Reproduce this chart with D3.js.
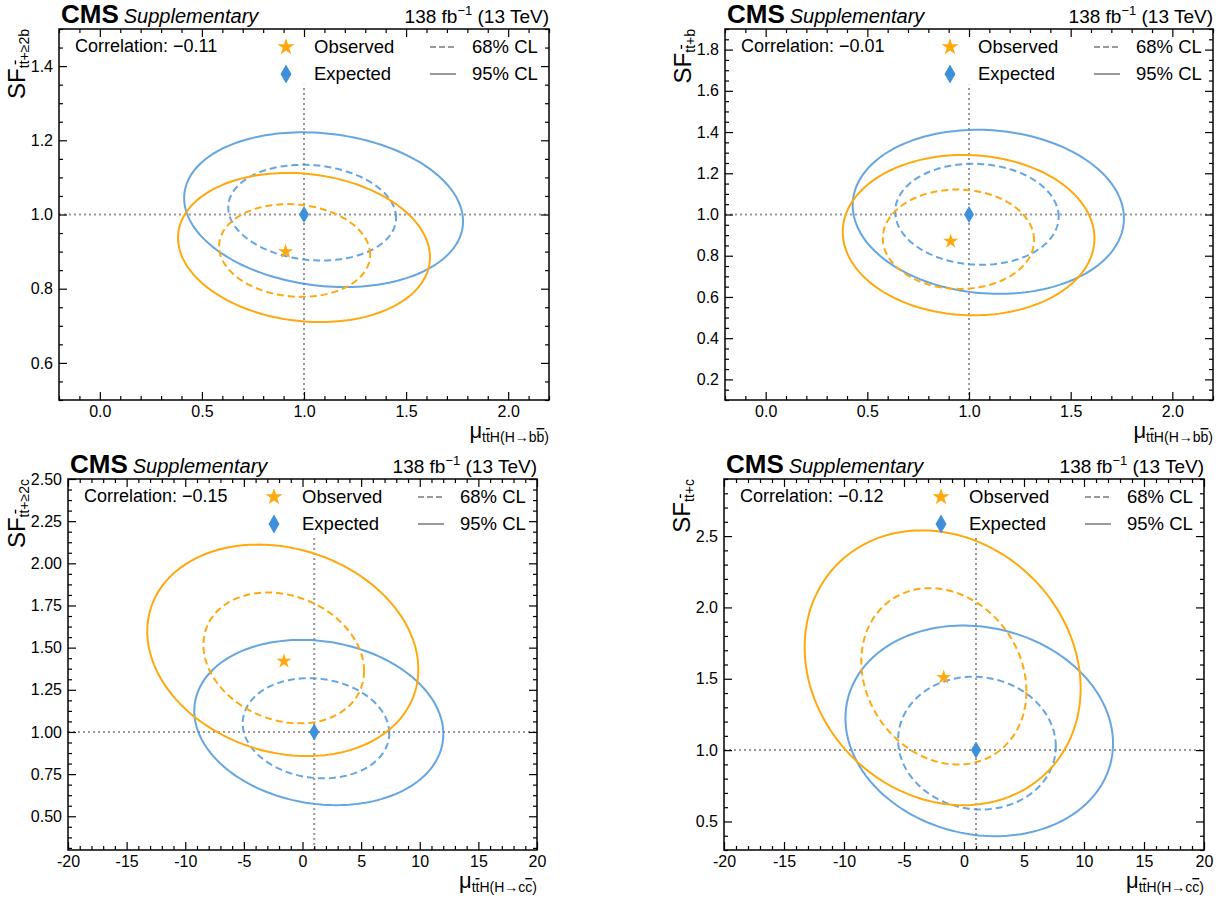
<!DOCTYPE html>
<html><head><meta charset="utf-8">
<script src="https://cdn.jsdelivr.net/npm/d3@7"></script>
<style>body{margin:0;background:#fff} text{font-family:"Liberation Sans",Arial,Helvetica,sans-serif;fill:#000}</style>
</head><body><svg id="c" width="1226" height="900"></svg>
<script>
// ---------------- data ----------------
const xDomains = [[-0.2, 2.2], [-0.2, 2.2], [-20, 20], [-20, 20]];
const yDomains = [[0.5, 1.5], [0.1, 1.9], [0.3, 2.5], [0.3, 2.9]];
const xMajorTicks = [[0, 0.5, 1, 1.5, 2], [0, 0.5, 1, 1.5, 2],
  [-20, -15, -10, -5, 0, 5, 10, 15, 20], [-20, -15, -10, -5, 0, 5, 10, 15, 20]];
const xTickLabels = [["0.0", "0.5", "1.0", "1.5", "2.0"], ["0.0", "0.5", "1.0", "1.5", "2.0"],
  ["-20", "-15", "-10", "-5", "0", "5", "10", "15", "20"], ["-20", "-15", "-10", "-5", "0", "5", "10", "15", "20"]];
const xMinorSteps = [0.1, 0.1, 1, 1];
const yMajorTicks = [[0.6, 0.8, 1.0, 1.2, 1.4], [0.2, 0.4, 0.6, 0.8, 1.0, 1.2, 1.4, 1.6, 1.8],
  [0.5, 0.75, 1.0, 1.25, 1.5, 1.75, 2.0, 2.25, 2.5], [0.5, 1.0, 1.5, 2.0, 2.5]];
const yTickLabels = [["0.6", "0.8", "1.0", "1.2", "1.4"], ["0.2", "0.4", "0.6", "0.8", "1.0", "1.2", "1.4", "1.6", "1.8"],
  ["0.50", "0.75", "1.00", "1.25", "1.50", "1.75", "2.00", "2.25", "2.50"], ["0.5", "1.0", "1.5", "2.0", "2.5"]];
const yMinorSteps = [0.05, 0.05, 0.0625, 0.1];
const correlations = ["\u22120.11", "\u22120.01", "\u22120.15", "\u22120.12"];
const xLabelProcess = ["b", "b", "c", "c"];
const yLabelSubs = ["+\u22652b", "+b", "+\u22652c", "+c"];
// best-fit points [x, y]
const observedPoints = [[0.91, 0.90], [0.91, 0.87], [-1.58, 1.42], [-1.69, 1.51]];
const expectedPoints = [[1.0, 1.0], [1.0, 1.0], [1.0, 1.0], [1.0, 1.0]];
// contours: [centre x, centre y, half-width x, half-height y, tilt]
const expected95 = [[1.096, 1.013, 0.683, 0.2085, -0.15], [1.095, 1.013, 0.667, 0.398, -0.08],
  [1.39, 1.056, 10.62, 0.49, -0.14], [1.27, 1.135, 11.15, 0.738, -0.12]];
const expected68 = [[1.040, 1.005, 0.411, 0.129, -0.11], [1.039, 1.001, 0.402, 0.245, -0.05],
  [1.15, 1.022, 6.25, 0.297, -0.10], [1.08, 1.049, 6.57, 0.465, -0.05]];
const observed95 = [[1.000, 0.911, 0.617, 0.201, -0.13], [0.998, 0.900, 0.619, 0.389, -0.04],
  [-1.68, 1.484, 11.56, 0.627, -0.18], [-1.78, 1.577, 11.5, 0.963, -0.15]];
const observed68 = [[0.954, 0.903, 0.370, 0.125, -0.09], [0.948, 0.880, 0.372, 0.241, -0.02],
  [-1.60, 1.439, 6.85, 0.388, -0.20], [-1.68, 1.517, 6.88, 0.618, -0.17]];

// ---------------- layout ----------------
const frames = [
  {l: 59, r: 549, t: 29, b: 400},
  {l: 725, r: 1213, t: 29, b: 400},
  {l: 68, r: 537, t: 479, b: 850},
  {l: 724, r: 1204, t: 479, b: 850}
];
const BLUE = "#3f90da", ORANGE = "#ffa90e", GREY = "#999";

const svg = d3.select("#c");

function minorValues(dom, step, majors) {
  const out = [];
  const start = Math.ceil(dom[0] / step - 1e-9);
  const end = Math.floor(dom[1] / step + 1e-9);
  for (let i = start; i <= end; i++) {
    const v = +(i * step).toFixed(6);
    if (!majors.some(m => Math.abs(m - v) < 1e-6)) out.push(v);
  }
  return out;
}

function ellipsePoints(p) {
  const [cx, cy, xr, yr, rho] = p;
  const s = Math.sqrt(1 - rho * rho);
  return d3.range(0, 361, 2).map(a => {
    const t = a * Math.PI / 180;
    return [cx + xr * Math.cos(t), cy + yr * (rho * Math.cos(t) + s * Math.sin(t))];
  });
}

function diamondPath(w, h) {
  return `M0,${-h / 2}L${w / 2},0L0,${h / 2}L${-w / 2},0Z`;
}

frames.forEach((f, i) => {
  const g = svg.append("g");
  const x = d3.scaleLinear().domain(xDomains[i]).range([f.l, f.r]);
  const y = d3.scaleLinear().domain(yDomains[i]).range([f.b, f.t]);

  const clipId = "clip" + i;
  svg.append("clipPath").attr("id", clipId).append("rect")
    .attr("x", f.l).attr("y", f.t).attr("width", f.r - f.l).attr("height", f.b - f.t);
  const plot = g.append("g").attr("clip-path", `url(#${clipId})`);

  // reference lines (vertical one up to 85% of the axes height)
  plot.append("line").attr("x1", f.l).attr("x2", f.r).attr("y1", y(1)).attr("y2", y(1))
    .attr("stroke", GREY).attr("stroke-width", 2).attr("stroke-dasharray", "2,3");
  plot.append("line").attr("x1", x(1)).attr("x2", x(1)).attr("y1", f.b)
    .attr("y2", f.b - 0.85 * (f.b - f.t))
    .attr("stroke", GREY).attr("stroke-width", 2).attr("stroke-dasharray", "2,3");

  const line = d3.line().x(d => x(d[0])).y(d => y(d[1])).curve(d3.curveLinearClosed);
  const contours = [
    {p: expected95[i], c: BLUE, dash: null, op: 0.8},
    {p: expected68[i], c: BLUE, dash: "7,4", op: 0.8},
    {p: observed95[i], c: ORANGE, dash: null, op: 1},
    {p: observed68[i], c: ORANGE, dash: "7,4", op: 1}
  ];
  contours.forEach(c => {
    plot.append("path").attr("d", line(ellipsePoints(c.p))).attr("fill", "none")
      .attr("stroke", c.c).attr("stroke-opacity", c.op).attr("stroke-width", 2)
      .attr("stroke-dasharray", c.dash);
  });

  // markers
  plot.append("path").attr("d", diamondPath(10, 17))
    .attr("transform", `translate(${x(expectedPoints[i][0])},${y(expectedPoints[i][1])})`)
    .attr("fill", BLUE);
  plot.append("path").attr("d", d3.symbol(d3.symbolStar, 70)())
    .attr("transform", `translate(${x(observedPoints[i][0])},${y(observedPoints[i][1])})`)
    .attr("fill", ORANGE);

  // legend
  const lgx = f.r - 263, row1 = f.t + 18, row2 = f.t + 45;
  g.append("path").attr("d", d3.symbol(d3.symbolStar, 90)())
    .attr("transform", `translate(${lgx},${row1})`).attr("fill", ORANGE);
  g.append("path").attr("d", diamondPath(11, 19))
    .attr("transform", `translate(${lgx},${row2})`).attr("fill", BLUE);
  g.append("text").attr("x", lgx + 28).attr("y", row1 + 6).attr("font-size", 18.5).text("Observed");
  g.append("text").attr("x", lgx + 28).attr("y", row2 + 6).attr("font-size", 18.5).text("Expected");
  g.append("line").attr("x1", f.r - 119).attr("x2", f.r - 93).attr("y1", row1).attr("y2", row1)
    .attr("stroke", GREY).attr("stroke-width", 2).attr("stroke-dasharray", "6,3");
  g.append("line").attr("x1", f.r - 119).attr("x2", f.r - 93).attr("y1", row2).attr("y2", row2)
    .attr("stroke", GREY).attr("stroke-width", 2);
  g.append("text").attr("x", f.r - 77).attr("y", row1 + 6).attr("font-size", 18.5).text("68% CL");
  g.append("text").attr("x", f.r - 77).attr("y", row2 + 6).attr("font-size", 18.5).text("95% CL");

  g.append("text").attr("x", f.l + 16).attr("y", f.t + 23).attr("font-size", 18)
    .text("Correlation: " + correlations[i]);

  // axes
  const xMin = minorValues(xDomains[i], xMinorSteps[i], xMajorTicks[i]);
  const yMin = minorValues(yDomains[i], yMinorSteps[i], yMajorTicks[i]);
  const fmtX = v => xTickLabels[i][xMajorTicks[i].indexOf(v)];
  const fmtY = v => yTickLabels[i][yMajorTicks[i].indexOf(v)];
  const MAJ = 8, MIN = 4;

  const ax = (axisFn, scale, vals, size, fmt, tr) => {
    const a = g.append("g").attr("transform", tr)
      .call(axisFn(scale).tickValues(vals).tickSize(-size).tickPadding(6)
        .tickFormat(fmt || (() => "")));
    a.select(".domain").remove();
    a.selectAll("line").attr("stroke", "#000").attr("stroke-width", 1.2);
    a.selectAll("text").attr("font-size", 16).attr("fill", "#000")
      .attr("font-family", '"Liberation Sans",Arial,sans-serif');
    return a;
  };
  ax(d3.axisBottom, x, xMajorTicks[i], MAJ, fmtX, `translate(0,${f.b})`);
  ax(d3.axisBottom, x, xMin, MIN, null, `translate(0,${f.b})`);
  ax(d3.axisTop, x, xMajorTicks[i], MAJ, null, `translate(0,${f.t})`);
  ax(d3.axisTop, x, xMin, MIN, null, `translate(0,${f.t})`);
  const yl = ax(d3.axisLeft, y, yMajorTicks[i], MAJ, fmtY, `translate(${f.l},0)`);
  ax(d3.axisLeft, y, yMin, MIN, null, `translate(${f.l},0)`);
  ax(d3.axisRight, y, yMajorTicks[i], MAJ, null, `translate(${f.r},0)`);
  ax(d3.axisRight, y, yMin, MIN, null, `translate(${f.r},0)`);

  // frame
  g.append("rect").attr("x", f.l).attr("y", f.t).attr("width", f.r - f.l).attr("height", f.b - f.t)
    .attr("fill", "none").attr("stroke", "#000").attr("stroke-width", 1.5);

  // header
  const cms = g.append("text").attr("x", f.l + 2).attr("y", f.t - 6).attr("font-size", 26)
    .attr("font-weight", "bold").text("CMS");
  const cw = cms.node().getComputedTextLength();
  g.append("text").attr("x", f.l + 2 + cw + 5).attr("y", f.t - 6).attr("font-size", 20)
    .attr("font-style", "italic").text("Supplementary");
  const lumi = g.append("text").attr("x", f.r).attr("y", f.t - 6).attr("font-size", 19)
    .attr("text-anchor", "end");
  lumi.append("tspan").text("138 fb");
  lumi.append("tspan").attr("font-size", 13).attr("dy", -8).text("\u22121");
  lumi.append("tspan").attr("dy", 8).text(" (13 TeV)");

  // x label
  const xl = g.append("text").attr("x", f.r).attr("y", f.b + 38).attr("text-anchor", "end");
  xl.append("tspan").attr("font-size", 22).text("\u03bc");
  xl.append("tspan").attr("font-size", 14).attr("dy", 4).text("t");
  xl.append("tspan").attr("font-size", 14).style("text-decoration", "overline").text("t");
  xl.append("tspan").attr("font-size", 14).text("H(H\u2192" + xLabelProcess[i]);
  xl.append("tspan").attr("font-size", 14).style("text-decoration", "overline").text(xLabelProcess[i]);
  xl.append("tspan").attr("font-size", 14).text(")");

  // y label
  const lblLeft = d3.min(yl.selectAll("text").nodes(), n => n.getBoundingClientRect().left);
  const ylx = lblLeft - 6;
  const ylab = g.append("text").attr("transform", `translate(${ylx},${f.t}) rotate(-90)`)
    .attr("text-anchor", "end");
  ylab.append("tspan").attr("font-size", 24).text("SF");
  ylab.append("tspan").attr("font-size", 14).attr("dy", 4).text("t");
  ylab.append("tspan").attr("font-size", 14).style("text-decoration", "overline").text("t");
  ylab.append("tspan").attr("font-size", 14).text(yLabelSubs[i]);
});
</script></body></html>
